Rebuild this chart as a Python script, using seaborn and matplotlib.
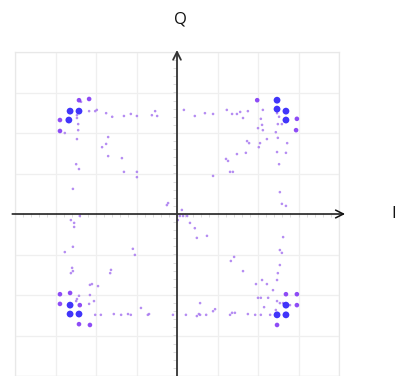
import numpy as np
import pandas as pd
import matplotlib
matplotlib.use("Agg")
import matplotlib.pyplot as plt
import seaborn as sns

sns.set_theme(style="white")
plt.rcParams['font.family'] = ['Open Sans', 'DejaVu Sans']

# heavy-density constellation points (weight 3)
big_i = [-2.64, -2.42, -2.67, 2.47, 2.47, 2.69, 2.69, -2.64, -2.64, -2.42, 2.69, 2.47, 2.69]
big_q = [2.54, 2.54, 2.32, 2.81, 2.59, 2.54, 2.32, -2.25, -2.47, -2.47, -2.25, -2.49, -2.49]

# medium density points (weight 2)
med_i = [-2.42, -2.17, -2.89, -2.89, 1.98, 2.96, 2.94,
         -2.89, -2.64, -2.89, -2.40, -2.42, -2.15,
         2.69, 2.96, 2.96, 2.47]
med_q = [2.81, 2.84, 2.32, 2.05, 2.81, 2.35, 2.07,
         -1.98, -1.95, -2.22, -2.25, -2.72, -2.74,
         -1.98, -1.98, -2.25, -2.74]

# sparse transition points (weight 1)
small_i = [-2.37, -2.47, -2.47, -2.44, -2.44, -2.47, -2.77, -2.17, -2.02, -1.98, -1.75, -1.60,
           -1.31, -1.14, -0.99, -0.62, -0.54, -0.49, -1.70, -1.75, -1.85, -1.70, -1.36, -1.31,
           -0.99, -0.99, -2.49, -2.42, -2.57, 0.17, 0.44,
           0.69, 0.89, 1.23, 1.36, 1.48, 1.56, 1.63, 1.75, 2.12, 2.07, 2.10, 2.00, 2.12, 2.47,
           2.52, 2.49, 2.59, 2.44, 2.49, 2.22, 2.05, 2.02, 1.73, 1.78, 2.72, 2.47, 2.69, 1.70,
           1.48, 1.21, 1.26, 2.52, 1.31, 1.38, 0.89,
           -0.22, -0.25, 0.12, 0.07, 0.15, 0.25, 0.02, 0.32, 0.44, 0.49, -2.40, -2.62, -2.54,
           -2.54, -2.57, -2.77, -1.09, -1.04, -2.59, -2.62, -2.57, -1.63, -1.65, -2.15, -2.10,
           -1.95, -2.42, -2.47, -2.49, -2.15, -2.05, -2.17, -2.02, -1.88, -1.56, -1.38, -1.21,
           -1.14, -0.89, -0.69, -0.72, -0.10, 0.22, 0.49, 0.54, 0.57,
           2.54, 2.59, 2.69, 0.74, 2.62, 2.54, 2.59, 1.33, 1.41, 2.54, 1.63, 2.49, 2.10, 1.95,
           2.22, 2.47, 2.37, 2.00, 2.07, 2.25, 2.47, 2.54, 2.62, 2.79, 2.15, 2.44, 2.30, 0.57,
           0.72, 0.89, 0.94, 1.31, 1.36, 1.43, 1.75, 1.93, 2.07]
small_q = [2.77, 2.44, 2.37, 2.22, 2.07, 1.85, 2.00, 2.54, 2.54, 2.57, 2.49, 2.40,
           2.42, 2.47, 2.42, 2.44, 2.54, 2.42, 1.90, 1.73, 1.65, 1.43, 1.38, 1.04,
           1.04, 0.91, 1.23, 1.11, 0.62, 2.57, 2.42,
           2.49, 2.47, 2.57, 2.47, 2.47, 2.52, 2.37, 2.54, 2.57, 2.35, 2.20, 2.12, 2.07, 2.49,
           2.40, 2.22, 2.22, 2.02, 1.88, 1.85, 1.75, 1.65, 1.80, 1.75, 1.75, 1.53, 1.51, 1.51,
           1.48, 1.36, 1.31, 1.23, 1.04, 1.04, 0.94,
           0.27, 0.22, 0.10, -0.05, -0.05, -0.05, -0.15, -0.22, -0.35, -0.59, -0.05, -0.15, -0.22,
           -0.32, -0.81, -0.94, -0.86, -1.01, -1.33, -1.46, -1.41, -1.38, -1.46, -1.75, -1.73,
           -1.78, -2.02, -2.10, -2.15, -2.00, -2.15, -2.22, -2.49, -2.49, -2.47, -2.49, -2.47,
           -2.49, -2.32, -2.47, -2.49, -2.49, -2.49, -2.52, -2.47, -2.20,
           0.54, 0.25, 0.20, -0.54, -0.57, -0.89, -0.96, -1.16, -1.06, -1.26, -1.41, -1.46, -1.63, -1.73,
           -1.73, -1.63, -1.88, -2.07, -2.07, -2.07, -2.15, -2.20, -2.20, -2.25, -2.30, -2.37, -2.49, -2.49,
           -2.49, -2.40, -2.35, -2.49, -2.44, -2.44, -2.47, -2.49, -2.49]

df = pd.DataFrame({
    "I": small_i + med_i + big_i,
    "Q": small_q + med_q + big_q,
    "w": [1] * len(small_i) + [2] * len(med_i) + [3] * len(big_i),
})

fig = plt.figure(figsize=(3.97, 3.76), dpi=100)
ax = fig.add_axes([15 / 397, 0, 324 / 397, 324 / 376])

sns.scatterplot(data=df, x="I", y="Q", hue="w", size="w",
                palette={1: "#a878f0", 2: "#7a2cf5", 3: "#2012fa"},
                sizes={1: 3.5, 2: 11, 3: 24}, linewidth=0, alpha=0.85,
                legend=False, ax=ax, zorder=4)

ax.set_xlim(-4, 4)
ax.set_ylim(-4, 4)
ax.set_xticks(np.arange(-4, 5, 1))
ax.set_yticks(np.arange(-4, 5, 1))
ax.grid(True, color="#efefef", linewidth=0.9)
ax.tick_params(length=0, labelbottom=False, labelleft=False)
ax.set_xlabel("")
ax.set_ylabel("")
for sp in ax.spines.values():
    sp.set_color("#e8e8e8")
    sp.set_linewidth(0.9)

# coordinate axes with arrows
ax.annotate("", xy=(4.15, 0), xytext=(-4.07, 0), xycoords="data",
            arrowprops=dict(arrowstyle="->", color="#111111", lw=1.1,
                            mutation_scale=14, shrinkA=0, shrinkB=0),
            annotation_clip=False, zorder=5)
ax.annotate("", xy=(0, 4.05), xytext=(0, -4.0), xycoords="data",
            arrowprops=dict(arrowstyle="->", color="#333333", lw=1.3,
                            mutation_scale=14, shrinkA=0, shrinkB=0),
            annotation_clip=False, zorder=5)

# faint small ticks along the axis lines
tk = np.arange(-3.8, 4.0, 0.2)
ax.plot(tk, np.full_like(tk, -0.03), ls="none", marker="|", ms=2.5,
        color="#dcdcdc", mew=0.7, zorder=3)
ax.plot(np.full_like(tk, -0.04), tk, ls="none", marker="_", ms=2.5,
        color="#dcdcdc", mew=0.7, zorder=3)

ax.text(0.08, 4.8, "Q", ha="center", va="center", fontsize=12,
        color="#111111", clip_on=False)
ax.text(5.35, 0.0, "I", ha="center", va="center", fontsize=12,
        color="#111111", clip_on=False)

fig.savefig("out.png", dpi=100)
